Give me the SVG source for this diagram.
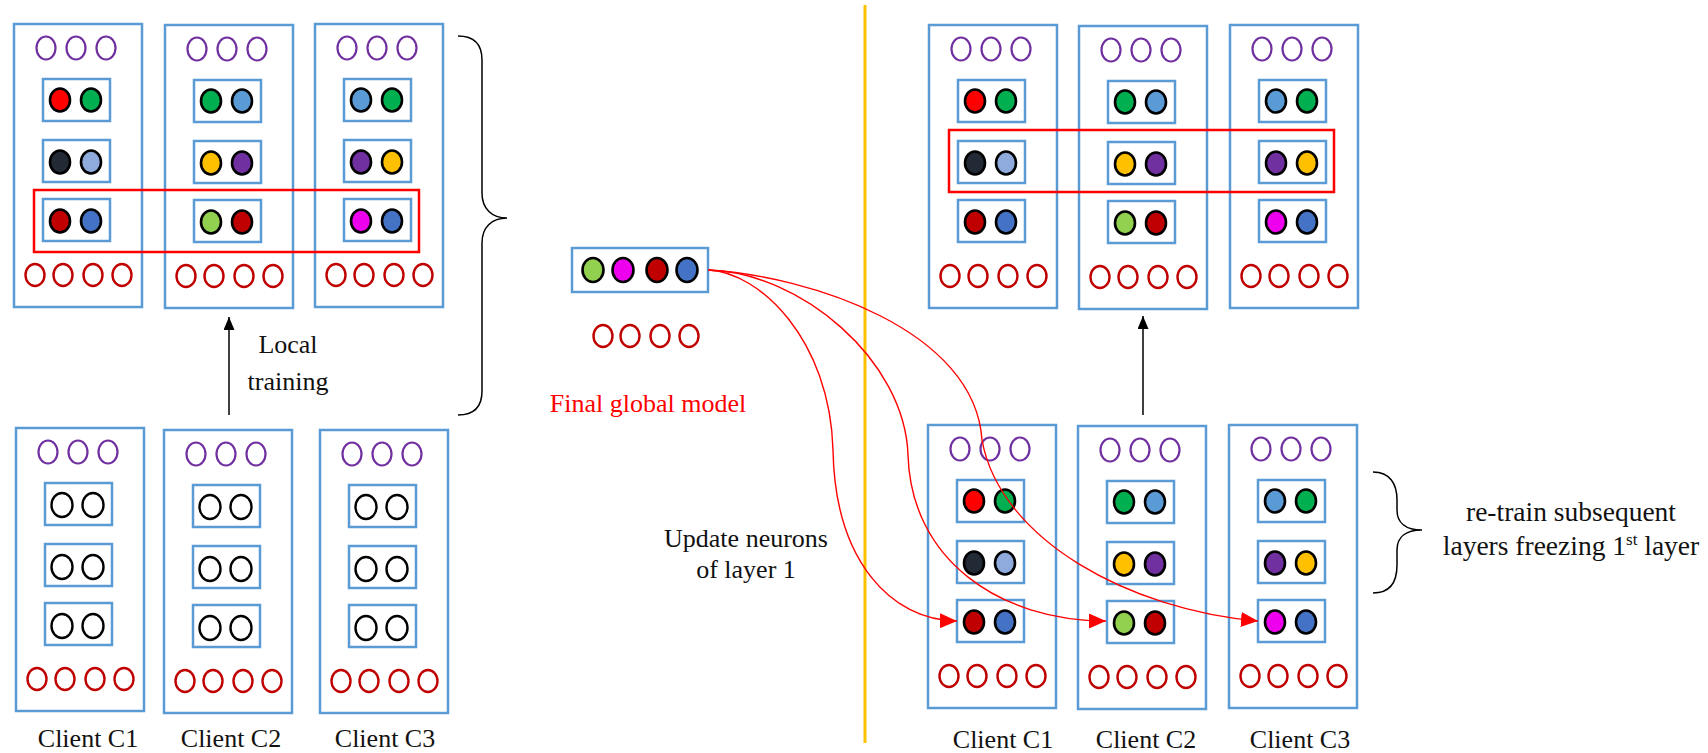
<svg xmlns="http://www.w3.org/2000/svg" width="1708" height="753" viewBox="0 0 1708 753">
<style>
.box{fill:#fff;stroke:#5B9BD5;stroke-width:2.5}
.ibox{fill:#fff;stroke:#5B9BD5;stroke-width:2.5}
.pu{fill:none;stroke:#7030A0;stroke-width:2.2}
.rd{fill:none;stroke:#C00000;stroke-width:2.4}
.n{stroke:#000;stroke-width:2.6}
.e{fill:none;stroke:#000;stroke-width:2.4}
.hl{fill:none;stroke:#FF0000;stroke-width:2.5}
.t{font-family:"Liberation Serif","Times New Roman",serif;font-size:26px;fill:#111}
.curve{fill:none;stroke:#FF0000;stroke-width:1.4}
.brace{fill:none;stroke:#000;stroke-width:1.5}
</style>
<defs>
<g id="frame">
<rect class="box" x="0" y="0" width="128" height="283"/>
<ellipse class="pu" cx="32" cy="24" rx="9.5" ry="11.5"/>
<ellipse class="pu" cx="62" cy="24" rx="9.5" ry="11.5"/>
<ellipse class="pu" cx="92" cy="24" rx="9.5" ry="11.5"/>
<rect class="ibox" x="29" y="55" width="67" height="42"/>
<rect class="ibox" x="29" y="116" width="67" height="42"/>
<rect class="ibox" x="29" y="175" width="67" height="42"/>
<ellipse class="rd" cx="21" cy="251" rx="9.5" ry="11"/>
<ellipse class="rd" cx="49" cy="251" rx="9.5" ry="11"/>
<ellipse class="rd" cx="79" cy="251" rx="9.5" ry="11"/>
<ellipse class="rd" cx="108" cy="251" rx="9.5" ry="11"/>
</g>
<g id="c1n">
<ellipse class="n" cx="46" cy="76" rx="10" ry="11.5" fill="#FF0000"/>
<ellipse class="n" cx="77" cy="76" rx="10" ry="11.5" fill="#00B050"/>
<ellipse class="n" cx="46" cy="138" rx="10" ry="11.5" fill="#222A35"/>
<ellipse class="n" cx="77" cy="138" rx="10" ry="11.5" fill="#8FAADC"/>
<ellipse class="n" cx="46" cy="197" rx="10" ry="11.5" fill="#C00000"/>
<ellipse class="n" cx="77" cy="197" rx="10" ry="11.5" fill="#4472C4"/>
</g>
<g id="c2n">
<ellipse class="n" cx="46" cy="76" rx="10" ry="11.5" fill="#00B050"/>
<ellipse class="n" cx="77" cy="76" rx="10" ry="11.5" fill="#5B9BD5"/>
<ellipse class="n" cx="46" cy="138" rx="10" ry="11.5" fill="#FFC000"/>
<ellipse class="n" cx="77" cy="138" rx="10" ry="11.5" fill="#7030A0"/>
<ellipse class="n" cx="46" cy="197" rx="10" ry="11.5" fill="#92D050"/>
<ellipse class="n" cx="77" cy="197" rx="10" ry="11.5" fill="#C00000"/>
</g>
<g id="c3n">
<ellipse class="n" cx="46" cy="76" rx="10" ry="11.5" fill="#5B9BD5"/>
<ellipse class="n" cx="77" cy="76" rx="10" ry="11.5" fill="#00B050"/>
<ellipse class="n" cx="46" cy="138" rx="10" ry="11.5" fill="#7030A0"/>
<ellipse class="n" cx="77" cy="138" rx="10" ry="11.5" fill="#FFC000"/>
<ellipse class="n" cx="46" cy="197" rx="10" ry="11.5" fill="#EE00EE"/>
<ellipse class="n" cx="77" cy="197" rx="10" ry="11.5" fill="#4472C4"/>
</g>
<g id="empty">
<ellipse class="e" cx="46" cy="77" rx="10.5" ry="12"/>
<ellipse class="e" cx="77" cy="77" rx="10.5" ry="12"/>
<ellipse class="e" cx="46" cy="139" rx="10.5" ry="12"/>
<ellipse class="e" cx="77" cy="139" rx="10.5" ry="12"/>
<ellipse class="e" cx="46" cy="198" rx="10.5" ry="12"/>
<ellipse class="e" cx="77" cy="198" rx="10.5" ry="12"/>
</g>
<marker id="ar" markerUnits="userSpaceOnUse" markerWidth="17" markerHeight="15" refX="17" refY="7.5" orient="auto">
<path d="M0,0 L17,7.5 L0,15 z" fill="#FF0000"/>
</marker>
<marker id="ab" markerUnits="userSpaceOnUse" markerWidth="13" markerHeight="11" refX="13" refY="5.5" orient="auto">
<path d="M0,0 L13,5.5 L0,11 z" fill="#000"/>
</marker>
</defs>

<line x1="865" y1="5" x2="865" y2="743" stroke="#FFC000" stroke-width="3"/>

<g id="tl-c1" transform="translate(14,24)"><use href="#frame"/><use href="#c1n"/></g>
<g id="tl-c2" transform="translate(165,25)"><use href="#frame"/><use href="#c2n"/></g>
<g id="tl-c3" transform="translate(315,24)"><use href="#frame"/><use href="#c3n"/></g>
<rect id="tl-highlight" class="hl" x="34" y="190" width="385" height="62"/>

<g id="bl-c1" transform="translate(16,428)"><use href="#frame"/><use href="#empty"/></g>
<g id="bl-c2" transform="translate(164,430)"><use href="#frame"/><use href="#empty"/></g>
<g id="bl-c3" transform="translate(320,430)"><use href="#frame"/><use href="#empty"/></g>

<g id="tr-c1" transform="translate(929,25)"><use href="#frame"/><use href="#c1n"/></g>
<g id="tr-c2" transform="translate(1079,26)"><use href="#frame"/><use href="#c2n"/></g>
<g id="tr-c3" transform="translate(1230,25)"><use href="#frame"/><use href="#c3n"/></g>
<rect id="tr-highlight" class="hl" x="949" y="130" width="385" height="62"/>

<g id="br-c1" transform="translate(928,425)"><use href="#frame"/><use href="#c1n"/></g>
<g id="br-c2" transform="translate(1078,426)"><use href="#frame"/><use href="#c2n"/></g>
<g id="br-c3" transform="translate(1229,425)"><use href="#frame"/><use href="#c3n"/></g>

<g id="global-model">
<rect class="ibox" x="572" y="248" width="136" height="44"/>
<ellipse class="n" cx="593" cy="270" rx="10.5" ry="12" fill="#92D050"/>
<ellipse class="n" cx="623" cy="270" rx="10.5" ry="12" fill="#EE00EE"/>
<ellipse class="n" cx="657" cy="270" rx="10.5" ry="12" fill="#C00000"/>
<ellipse class="n" cx="687" cy="270" rx="10.5" ry="12" fill="#4472C4"/>
<ellipse class="rd" cx="603" cy="336" rx="9.5" ry="11"/>
<ellipse class="rd" cx="630" cy="336" rx="9.5" ry="11"/>
<ellipse class="rd" cx="660" cy="336" rx="9.5" ry="11"/>
<ellipse class="rd" cx="689" cy="336" rx="9.5" ry="11"/>
<text class="t" x="648" y="412" text-anchor="middle" style="fill:#FF0000">Final global model</text>
</g>

<g id="connectors">
<line x1="229" y1="415" x2="229" y2="317" stroke="#000" stroke-width="1.5" marker-end="url(#ab)"/>
<line x1="1143" y1="415" x2="1143" y2="316" stroke="#000" stroke-width="1.5" marker-end="url(#ab)"/>
<path class="curve" d="M708,270 C760,272 830,340 833,450 C835,560 890,620 957,621" marker-end="url(#ar)"/>
<path class="curve" d="M708,270 C800,272 905,360 908,455 C911,560 1000,621 1106,621" marker-end="url(#ar)"/>
<path class="curve" d="M708,270 C810,276 975,330 982,440 C1000,540 1130,610 1258,621" marker-end="url(#ar)"/>
<path class="brace" d="M458,36 C475,36 482,45 482,60 L482,193 C482,209 492,218 507,218 C492,218 482,227 482,243 L482,391 C482,406 475,415 458,415"/>
<path class="brace" d="M1373,472 C1390,472 1397,484 1397,500 L1397,510 C1397,523 1406,530 1422,530 C1406,530 1397,537 1397,550 L1397,565 C1397,582 1390,593 1373,593"/>
</g>

<g id="labels">
<text class="t" x="288" y="353" text-anchor="middle">Local</text>
<text class="t" x="288" y="390" text-anchor="middle">training</text>
<text class="t" x="746" y="547" text-anchor="middle">Update neurons</text>
<text class="t" x="746" y="578" text-anchor="middle">of layer 1</text>
<text class="t" x="1571" y="521" text-anchor="middle" style="font-size:27.5px">re-train subsequent</text>
<text class="t" x="1571" y="555" text-anchor="middle" style="font-size:27.5px">layers freezing 1<tspan dy="-10" style="font-size:17px">st</tspan><tspan dy="10"> layer</tspan></text>
<text class="t" x="88" y="747" text-anchor="middle">Client C1</text>
<text class="t" x="231" y="747" text-anchor="middle">Client C2</text>
<text class="t" x="385" y="747" text-anchor="middle">Client C3</text>
<text class="t" x="1003" y="748" text-anchor="middle">Client C1</text>
<text class="t" x="1146" y="748" text-anchor="middle">Client C2</text>
<text class="t" x="1300" y="748" text-anchor="middle">Client C3</text>
</g>
</svg>
